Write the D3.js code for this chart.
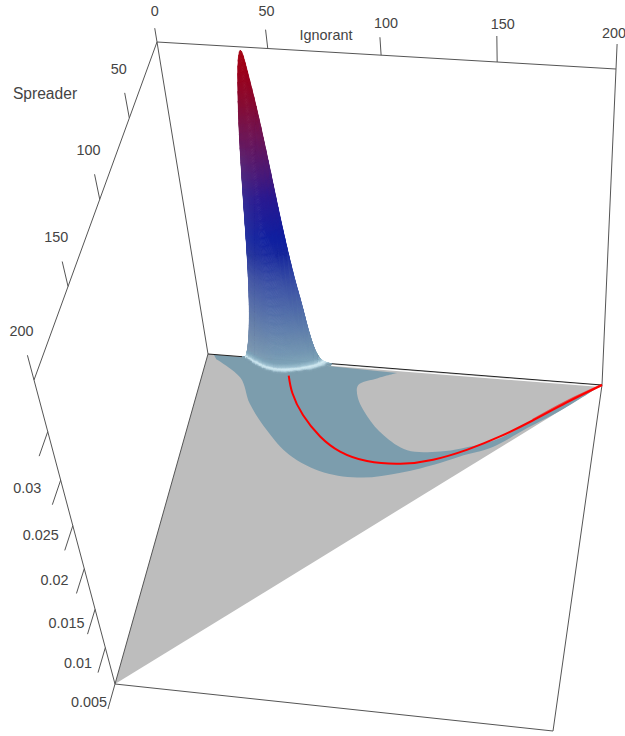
<!DOCTYPE html>
<html>
<head>
<meta charset="utf-8">
<script src="https://cdn.jsdelivr.net/npm/d3@7"></script>
<style>
  html, body { margin: 0; background: #fff; }
  text { font-family: "Liberation Sans", Arial, sans-serif; font-size: 14.4px; fill: #444; }
</style>
</head>
<body>
<svg id="chart" width="625" height="736"></svg>
<script>
// Density surface, one row per Spreader value, columns follow ignorantGrid
const ignorantGrid = d3.range(18, 65, 2);
const spreaderGrid = [0, 1, 2, 3, 4, 5, 6, 7, 8, 9];
const densityS0 = [.0050, .0052, .0068, .0094, .0132, .0186, .0255, .0315, .0358, .0388, .0396, .0370, .0335, .0290, .0240, .0195, .0158, .0128, .0094, .0070, .0058, .0053, .0051, .0050];
const densityS1 = [.0050, .0050, .0055, .0071, .0098, .0138, .0191, .0240, .0278, .0303, .0308, .0289, .0263, .0226, .0187, .0153, .0125, .0102, .0079, .0064, .0055, .0052, .0050, .0050];
const densityS2 = [.0050, .0050, .0050, .0056, .0072, .0097, .0134, .0169, .0199, .0218, .0220, .0207, .0190, .0164, .0137, .0114, .0096, .0081, .0067, .0058, .0053, .0051, .0050, .0050];
const densityS3 = [.0050, .0050, .0050, .0051, .0058, .0070, .0094, .0119, .0141, .0154, .0155, .0146, .0137, .0119, .0102, .0087, .0075, .0066, .0059, .0054, .0051, .0050, .0050, .0050];
const densityS4 = [.0050, .0050, .0050, .0050, .0052, .0057, .0068, .0084, .0098, .0106, .0106, .0102, .0097, .0086, .0077, .0069, .0062, .0057, .0053, .0051, .0050, .0050, .0050, .0050];
const densityS5 = [.0050, .0050, .0050, .0050, .0050, .0052, .0057, .0065, .0072, .0077, .0077, .0075, .0072, .0067, .0063, .0059, .0055, .0052, .0051, .0050, .0050, .0050, .0050, .0050];
const densityS6 = [.0050, .0050, .0050, .0050, .0050, .0050, .0052, .0056, .0060, .0064, .0065, .0063, .0061, .0058, .0056, .0054, .0051, .0050, .0050, .0050, .0050, .0050, .0050, .0050];
const densityS7 = [.0050, .0050, .0050, .0050, .0050, .0050, .0050, .0051, .0053, .0055, .0056, .0055, .0054, .0053, .0051, .0050, .0050, .0050, .0050, .0050, .0050, .0050, .0050, .0050];
const densityS8 = [.0050, .0050, .0050, .0050, .0050, .0050, .0050, .0050, .0050, .0051, .0051, .0051, .0051, .0050, .0050, .0050, .0050, .0050, .0050, .0050, .0050, .0050, .0050, .0050];
const densityS9 = [.0050, .0050, .0050, .0050, .0050, .0050, .0050, .0050, .0050, .0050, .0050, .0050, .0050, .0050, .0050, .0050, .0050, .0050, .0050, .0050, .0050, .0050, .0050, .0050];
const densityRows = [densityS0, densityS1, densityS2, densityS3, densityS4, densityS5, densityS6, densityS7, densityS8, densityS9];

// Simplex corners and the region of the floor where the density is not negligible
const domainIgnorant = [0, 200, 0];
const domainSpreader = [0, 0, 200];
const bandOuterIgnorant = [5, 20, 28, 40, 54, 73, 92, 110, 128, 137, 152, 167, 181, 200];
const bandOuterSpreader = [3, 14, 30, 46, 60, 69, 70, 65, 57, 52, 44.5, 31, 19, 0];
const bandInnerIgnorant = [98, 89, 80, 81, 88, 98, 111, 127, 137, 152, 167, 181, 200];
const bandInnerSpreader = [2.7, 7, 12.5, 20, 32, 43, 51, 50, 47, 40.5, 28, 15, 0];

// Deterministic trajectory
const pathIgnorant = [44, 48, 56, 67, 78.5, 92.6, 109, 124.4, 140, 154.6, 169, 184, 200];
const pathSpreader = [10, 21, 34.5, 47, 55.3, 59.7, 59.6, 55.4, 47.4, 37.6, 26, 13, 0];
const tailIgnorant = [169, 184, 200];
const tailSpreader = [25.6, 12.2, 0];

// Axes
const ignorantTicks = [0, 50, 100, 150, 200];
const spreaderTicks = [50, 100, 150, 200];
const densityTicks = [.005, .01, .015, .02, .025, .03, .035];
const densityLabels = ["0.005", "0.01", "0.015", "0.02", "0.025", "0.03"];

// Colour ramp of the surface
const rampDensity = [.005, .0051, .00525, .0054, .0058, .0068, .0085, .0105, .0155, .0187, .0205, .025, .0275, .0315, .0348, .0378, .0396];
const rampColour = ["#7c9dad", "#bcd8e4", "#d5ecf4", "#a0c2d2", "#7ea3b8", "#7396b2", "#6888ad", "#5a78ab", "#3a4fa5", "#1a2a9e", "#1020a0", "#2b1a90", "#4a1a78", "#6f1555", "#880a30", "#9c0018", "#a50010"];

const floorColour = "#bdbdbd";
const bandColour = "#7c9dad";
const lineColour = "#555";
const hazeColour = "#8a8fa8";

// Screen corners of the box, order (0,0) (1,0) (1,1) (0,1)
const floorQuad = [[208, 354], [602, 385], [553, 731], [115, 684]];
const topQuad = [[157, 42], [616, 69], [558, 430], [34, 380]];
const depthRatio = 0.815;

const x = d3.scaleLinear().domain([0, 200]).range([0, 1]);
const y = d3.scaleLinear().domain([0, 200]).range([0, 1]);
const z = d3.scaleLinear().domain([.005, .04]).range([0, 1]);
const colour = d3.scaleLinear().domain(rampDensity).range(rampColour).clamp(true);
// the left flank of the peak is lit a bit paler
const haze = d3.scaleLinear().domain([22, 38]).range([0.3, 0]).clamp(true);

// unit square -> quad
function homography(q) {
  const [[x0, y0], [x1, y1], [x2, y2], [x3, y3]] = q;
  const dx1 = x1 - x2, dx2 = x3 - x2, sx = x0 - x1 + x2 - x3;
  const dy1 = y1 - y2, dy2 = y3 - y2, sy = y0 - y1 + y2 - y3;
  const den = dx1 * dy2 - dx2 * dy1;
  const g = (sx * dy2 - dx2 * sy) / den;
  const h = (dx1 * sy - sx * dy1) / den;
  const a = x1 - x0 + g * x1, b = x3 - x0 + h * x3;
  const d = y1 - y0 + g * y1, e = y3 - y0 + h * y3;
  return (u, v) => {
    const w = 1 + g * u + h * v;
    return [(a * u + b * v + x0) / w, (d * u + e * v + y0) / w];
  };
}
const floorMap = homography(floorQuad);
const topMap = homography(topQuad);

function project(i, s, dens) {
  const u = x(i), v = y(s), w = z(dens);
  const f = floorMap(u, v), t = topMap(u, v);
  const k = depthRatio * w / (1 + (depthRatio - 1) * w);
  return [f[0] + (t[0] - f[0]) * k, f[1] + (t[1] - f[1]) * k];
}
const onFloor = (i, s) => project(i, s, .005);

// smooth value along one row, between columns c and c + 1
function rowValue(row, c, a) {
  const p0 = row[Math.max(c - 1, 0)], p1 = row[c], p2 = row[c + 1], p3 = row[Math.min(c + 2, row.length - 1)];
  const v = 0.5 * (2 * p1 + (p2 - p0) * a + (2 * p0 - 5 * p1 + 4 * p2 - p3) * a * a + (3 * p1 - p0 - 3 * p2 + p3) * a * a * a);
  return Math.max(v, .005);
}

const svg = d3.select("#chart");
const straight = d3.line();
const closed = d3.line().curve(d3.curveLinearClosed);
const smooth = d3.line().curve(d3.curveCatmullRom.alpha(0.5));
const spline = d3.line().curve(d3.curveNatural);

function edge(a, b, colourName) {
  svg.append("path").attr("d", straight([a, b])).attr("fill", "none")
    .attr("stroke", colourName || lineColour).attr("stroke-width", 1);
}
function along(from, to, len) {
  const dx = to[0] - from[0], dy = to[1] - from[1], n = Math.hypot(dx, dy);
  return [from[0] + dx / n * len, from[1] + dy / n * len];
}

// floor
svg.append("path").attr("d", closed(domainIgnorant.map((d, k) => onFloor(d, domainSpreader[k]))))
  .attr("fill", floorColour);

const bandInner = [[3, 0]].concat(bandInnerIgnorant.map((d, k) => [d, bandInnerSpreader[k]])).map(p => onFloor(p[0], p[1]));
const bandOuter = bandOuterIgnorant.map((d, k) => onFloor(d, bandOuterSpreader[k])).reverse();
svg.append("path")
  .attr("d", straight(bandInner.slice(0, 2)) + smooth(bandInner.slice(1)).replace(/^M/, "L") + smooth(bandOuter).replace(/^M/, "L") + "Z")
  .attr("fill", bandColour);

// box
const zMin = .005, zMax = .04;
edge(project(0, 0, zMax), project(200, 0, zMax));
edge(project(0, 0, zMax), project(0, 200, zMax));
edge(project(0, 0, zMax), onFloor(0, 0));
edge(project(200, 0, zMax), onFloor(200, 0));
edge(project(0, 200, zMax), onFloor(0, 200));
edge(onFloor(0, 0), onFloor(200, 0), "#222");
edge(onFloor(200, 0), onFloor(200, 200));
edge(onFloor(200, 200), onFloor(0, 200));
edge(onFloor(0, 0), onFloor(0, 200));

// pale rim along the Spreader = 0 edge
svg.append("path").attr("d", straight([onFloor(62, 1), onFloor(198, 1)]))
  .attr("stroke", "#fff").attr("stroke-width", 1.3).attr("fill", "none");

// surface, far rows first, each cell cut finer only for the colour shading
const stepsI = 4;
const surface = svg.append("g");
for (let r = 0; r < spreaderGrid.length - 1; r++) {
  const stepsS = r < 2 ? 32 : 10;
  for (let c = 0; c < ignorantGrid.length - 1; c++) {
    const near = densityRows[r + 1], far = densityRows[r];
    if (Math.max(far[c], far[c + 1], near[c], near[c + 1]) <= zMin) continue;
    const i0 = ignorantGrid[c], i1 = ignorantGrid[c + 1];
    const s0 = spreaderGrid[r], s1 = spreaderGrid[r + 1];
    const at = (a, b) => {
      const dens = d3.interpolate(rowValue(far, c, a), rowValue(near, c, a))(b);
      return { p: project(d3.interpolate(i0, i1)(a), d3.interpolate(s0, s1)(b), dens), dens };
    };
    for (let b = 0; b < stepsS; b++) {
      for (let a = 0; a < stepsI; a++) {
        const q = [at(a / stepsI, b / stepsS), at((a + 1) / stepsI, b / stepsS),
                   at((a + 1) / stepsI, (b + 1) / stepsS), at(a / stepsI, (b + 1) / stepsS)];
        const dens = d3.mean(q, d => d.dens);
        const pale = haze(d3.interpolate(i0, i1)((a + 0.5) / stepsI)) * (dens < .03 ? 1 : 0.3);
        const fill = d3.interpolateRgb(colour(dens), hazeColour)(dens > .006 ? pale : 0);
        surface.append("path").attr("d", closed(q.map(d => d.p)))
          .attr("fill", fill).attr("stroke", fill).attr("stroke-width", 0.6);
      }
    }
  }
}

// trajectory
svg.append("path").attr("d", smooth(tailIgnorant.map((d, k) => onFloor(d, tailSpreader[k]))))
  .attr("fill", "none").attr("stroke", "#ff0000").attr("stroke-width", 2).attr("opacity", 0.6);
svg.append("path").attr("d", spline(pathIgnorant.map((d, k) => onFloor(d, pathSpreader[k]))))
  .attr("fill", "none").attr("stroke", "#ff0000").attr("stroke-width", 2);

// Ignorant axis
const ignorantTickLen = [14, 19, 18, 26, 25];
const ignorantLabelOffset = [[0, -16], [1, -17], [6, -13], [6, -11], [-3, -10]];
ignorantTicks.forEach((t, k) => {
  const base = project(t, 0, zMax);
  const end = along(base, along(onFloor(t, 0), base, 1000), ignorantTickLen[k]);
  edge(base, end);
  svg.append("text").attr("x", end[0] + ignorantLabelOffset[k][0]).attr("y", end[1] + ignorantLabelOffset[k][1])
    .attr("text-anchor", "middle").attr("dominant-baseline", "middle").text(t);
});

// Spreader axis
spreaderTicks.forEach(t => {
  const base = project(0, t, zMax);
  const end = along(base, along(onFloor(0, t), base, 1000), 25.6);
  edge(base, end);
  svg.append("text").attr("x", end[0] - 6).attr("y", end[1] - 23)
    .attr("text-anchor", "middle").attr("dominant-baseline", "middle").text(t);
});

// Density axis
const densityLabelOffset = [[-19, -6], [-20, -8], [-21, -10], [-22, -12], [-24, -14], [-25, -16]];
densityTicks.forEach((t, k) => {
  const base = project(0, 200, t);
  const end = along(base, project(0, 400, t), 26);
  edge(base, end);
  if (k < densityLabels.length) {
    svg.append("text").attr("x", end[0] + densityLabelOffset[k][0]).attr("y", end[1] + densityLabelOffset[k][1])
      .attr("text-anchor", "middle").attr("dominant-baseline", "middle").text(densityLabels[k]);
  }
});

svg.append("text").attr("x", 326).attr("y", 36).attr("text-anchor", "middle")
  .attr("dominant-baseline", "middle").text("Ignorant");
svg.append("text").attr("x", 45).attr("y", 95).attr("text-anchor", "middle")
  .attr("dominant-baseline", "middle").style("font-size", "15.6px").text("Spreader");
</script>
</body>
</html>
